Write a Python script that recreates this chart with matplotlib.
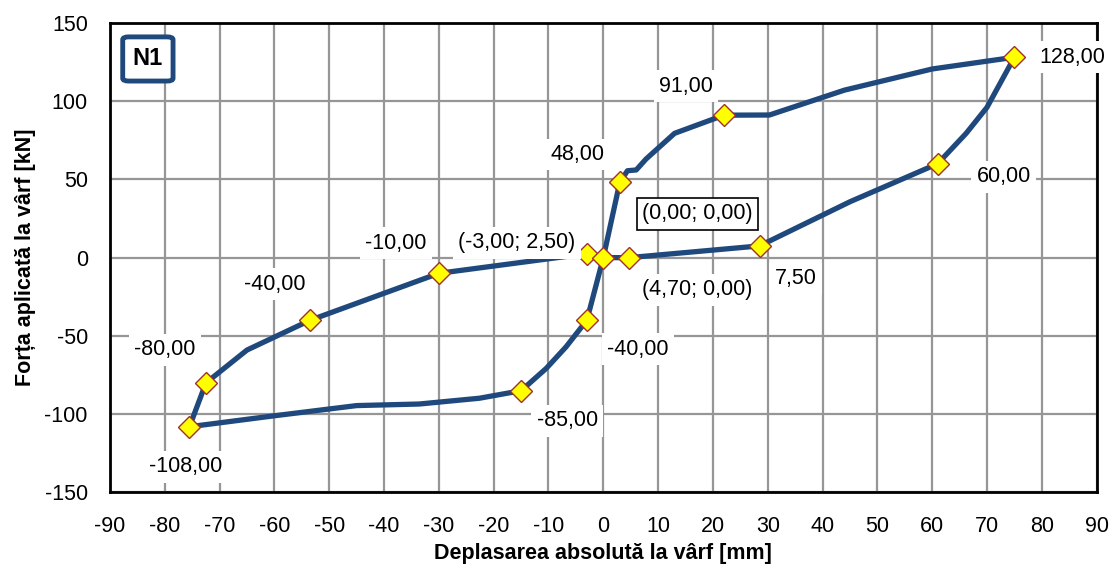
import matplotlib.pyplot as plt
from matplotlib.patches import FancyBboxPatch

# hysteresis loop, N1 specimen
depl = [0, 3, 4.4, 6, 7.8, 13, 22, 30.3, 44, 60, 75, 70, 66.2, 61, 45, 28.5,
        4.7, 0, -3, -30, -53.5, -65, -72.5, -75.5, -60, -45, -33.6, -22.6,
        -15, -10.4, -6.8, -3, 0]
forta = [0, 48, 55.5, 56, 63, 79.4, 91, 91.1, 107, 120.5, 128, 96, 79.4, 60,
         35.7, 7.5, 0, 0, 2.5, -10, -40, -59, -80, -108, -101, -94.5, -93.5,
         -89.8, -85, -70.7, -57, -40, 0]

# marked points and their labels
pts_x = [75, 22, 3, -3, 0, 4.7, 28.5, 61, -30, -53.5, -72.5, -75.5, -15, -3]
pts_y = [128, 91, 48, 2.5, 0, 0, 7.5, 60, -10, -40, -80, -108, -85, -40]
pts_lbl = ["128,00", "91,00", "48,00", "(-3,00; 2,50)", "(0,00; 0,00)",
           "(4,70; 0,00)", "7,50", "60,00", "-10,00", "-40,00", "-80,00",
           "-108,00", "-85,00", "-40,00"]
lbl_off = [(58, 0), (-38, 29), (-42, 28), (-70, 11), (94, 44), (68, -32),
           (36, -33), (66, -13), (-43, 30), (-35, 36), (-41, 33), (-4, -40),
           (46, -30), (51, -29)]

plt.rcParams['font.family'] = ['Liberation Sans', 'DejaVu Sans']
plt.rcParams['axes.unicode_minus'] = False

fig = plt.figure(figsize=(11.19, 5.70), dpi=100)
ax = fig.add_axes([0.0983, 0.136, 0.8817, 0.824])

ax.plot(depl, forta, color='#1f497d', lw=3.8, solid_joinstyle='round', zorder=3)
ax.plot(pts_x, pts_y, ls='none', marker='D', ms=11, mfc='#ffff00',
        mec='#a0302a', mew=1.0, zorder=4)

for x, y, t, off in zip(pts_x, pts_y, pts_lbl, lbl_off):
    boxed = t == "(0,00; 0,00)"
    ax.annotate(t, (x, y), xytext=off, textcoords='offset pixels',
                ha='center', va='center', fontsize=15.5, zorder=5,
                bbox=dict(boxstyle='square,pad=0.25', fc='white',
                          ec='black' if boxed else 'none', lw=1.2))

ax.set_xlim(-90, 90)
ax.set_ylim(-150, 150)
ax.set_xticks(range(-90, 91, 10))
ax.set_yticks(range(-150, 151, 50))
ax.grid(True, color='#969696', lw=1.6)
ax.set_axisbelow(True)
ax.tick_params(length=0, labelsize=15.5)
ax.tick_params(axis='x', pad=17)
ax.tick_params(axis='y', pad=16)
for s in ax.spines.values():
    s.set_linewidth(2)
    s.set_color('black')

ax.set_xlabel("Deplasarea absolută la vârf [mm]", fontsize=15.5, fontweight='bold', labelpad=4)
ax.set_ylabel("Forța aplicată la vârf [kN]", fontsize=15.5, fontweight='bold', labelpad=6)

# specimen tag
tag = FancyBboxPatch((0.0129, 0.876), 0.051, 0.094, transform=ax.transAxes,
                     boxstyle='round,pad=0,rounding_size=0.006', fc='white',
                     ec='#1f497d', lw=3.5, zorder=6)
ax.add_patch(tag)
ax.text(0.0384, 0.923, "N1", transform=ax.transAxes, ha='center', va='center',
        fontsize=17, fontweight='bold', zorder=7)

fig.savefig('out.png', dpi=100)
